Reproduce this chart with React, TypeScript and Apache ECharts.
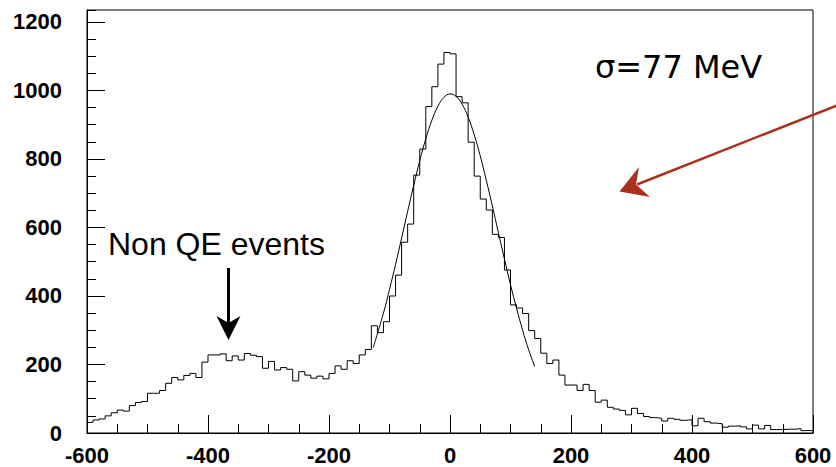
import React, { useEffect, useRef } from "react";
import * as echarts from "echarts";

// Histogram: bin lower edge starts at -600 MeV, 10 MeV per bin, 120 bins
const BIN_MIN = -600;
const BIN_WIDTH = 10;
const counts = [
  31, 38, 41, 50, 59, 67, 64, 80, 89, 92,
  116, 116, 124, 145, 162, 155, 168, 174, 162, 207,
  228, 228, 231, 211, 225, 213, 232, 227, 223, 189,
  209, 184, 191, 186, 152, 179, 169, 160, 166, 158,
  174, 196, 186, 211, 203, 228, 244, 313, 293, 325,
  400, 461, 557, 610, 753, 829, 953, 1011, 1077, 1111,
  1107, 982, 964, 849, 750, 683, 651, 580, 571, 476,
  374, 365, 349, 299, 276, 233, 203, 213, 169, 140,
  140, 124, 142, 124, 90, 96, 75, 70, 66, 53,
  72, 57, 48, 45, 43, 35, 43, 40, 37, 39,
  21, 43, 33, 29, 27, 17, 20, 21, 18, 12,
  23, 12, 22, 10, 10, 11, 11, 13, 7, 7,
];

// Gaussian fit curve
const fitX = [-127, -110, -100, -90, -80, -70, -60, -50, -40, -30, -20, -10, 0, 10, 20, 30, 40, 50, 60, 70, 80, 90, 100, 110, 120, 130, 140];
const fitY = [249, 350, 419, 492, 569, 647, 723, 795, 859, 913, 954, 980, 990, 983, 960, 922, 871, 809, 738, 663, 585, 508, 433, 364, 300, 243, 194];

const xTicks = { min: -600, max: 600, interval: 200 };
const yTicks = { min: 0, max: 1235, interval: 200, minorInterval: 50 };

const sigmaLabel = "σ=77 MeV";
const nonQELabel = "Non QE events";

export default function App() {
  const ref = useRef<HTMLDivElement>(null);
  useEffect(() => {
    document.body.style.margin = "0";
    if (!ref.current) return;
    const chart = echarts.init(ref.current, undefined, { renderer: "svg" });

    const histData: [number, number][] = counts.map((c, i) => [BIN_MIN + i * BIN_WIDTH, c]);
    histData.push([BIN_MIN + counts.length * BIN_WIDTH, counts[counts.length - 1]]);
    const fitData = fitX.map((x, i) => [x, fitY[i]]);

    const labelFont = {
      color: "#000",
      fontSize: 22,
      fontWeight: "bold" as const,
      fontFamily: "'Liberation Sans', Arial, sans-serif",
      formatter: (v: number) => String(v),
    };

    const option: any = {
      animation: false,
      backgroundColor: "#fff",
      grid: {
        left: 87,
        right: 23,
        top: 10,
        bottom: 34,
        show: true,
        borderColor: "#000",
        borderWidth: 1,
        backgroundColor: "transparent",
      },
      xAxis: {
        type: "value",
        min: xTicks.min,
        max: xTicks.max,
        interval: xTicks.interval,
        axisLine: { show: true, onZero: false, lineStyle: { color: "#000", width: 1 } },
        axisTick: { show: true, inside: true, length: 18, lineStyle: { color: "#000", width: 1 } },
        minorTick: { show: true, splitNumber: 4, length: 9, lineStyle: { color: "#000", width: 1 } },
        splitLine: { show: false },
        axisLabel: { ...labelFont, margin: 11 },
      },
      yAxis: [
        {
          type: "value",
          min: yTicks.min,
          max: yTicks.max,
          interval: yTicks.interval,
          position: "left",
          axisLine: { show: true, onZero: false, lineStyle: { color: "#000", width: 1 } },
          axisTick: { show: true, inside: true, length: 18, lineStyle: { color: "#000", width: 1 } },
          splitLine: { show: false },
          axisLabel: { ...labelFont, margin: 25, showMaxLabel: false },
        },
        {
          type: "value",
          min: yTicks.min,
          max: yTicks.max,
          interval: yTicks.minorInterval,
          position: "left",
          axisLine: { show: false, onZero: false },
          axisTick: { show: true, inside: true, length: 9, lineStyle: { color: "#000", width: 1 } },
          splitLine: { show: false },
          axisLabel: { show: false },
        },
      ],
      series: [
        {
          type: "line",
          step: "end",
          data: histData,
          symbol: "none",
          silent: true,
          lineStyle: { color: "#000", width: 1 },
        },
        {
          type: "line",
          data: fitData,
          smooth: 0.4,
          symbol: "none",
          silent: true,
          lineStyle: { color: "#000", width: 1 },
        },
      ],
      graphic: [
        {
          type: "text",
          style: {
            text: sigmaLabel,
            x: 595,
            y: 67,
            fontSize: 32,
            fontFamily: "'DejaVu Sans', sans-serif",
            fill: "#000",
            verticalAlign: "middle",
            align: "left",
          },
        },
        {
          type: "text",
          style: {
            text: nonQELabel,
            x: 108,
            y: 244,
            fontSize: 32,
            fontFamily: "'Liberation Sans', Arial, sans-serif",
            fill: "#000",
            verticalAlign: "middle",
            align: "left",
          },
        },
        {
          type: "line",
          shape: { x1: 228.5, y1: 268, x2: 228.5, y2: 326 },
          style: { stroke: "#000", lineWidth: 3 },
        },
        {
          type: "polygon",
          shape: { points: [[216.5, 316], [228.5, 340], [240.5, 316], [228.5, 323]] },
          style: { fill: "#000" },
        },
        {
          type: "line",
          shape: { x1: 838, y1: 105, x2: 637, y2: 184.5 },
          style: { stroke: "#a8321c", lineWidth: 2.5 },
        },
        {
          type: "polygon",
          shape: { points: [[619.5, 191.5], [639, 167], [636, 184.5], [650, 197]] },
          style: { fill: "#a8321c" },
        },
      ],
    };
    chart.setOption(option);
    return () => chart.dispose();
  }, []);
  return (
    <div
      ref={ref}
      style={{ position: "fixed", left: 0, top: 0, width: 836, height: 467 }}
    />
  );
}
